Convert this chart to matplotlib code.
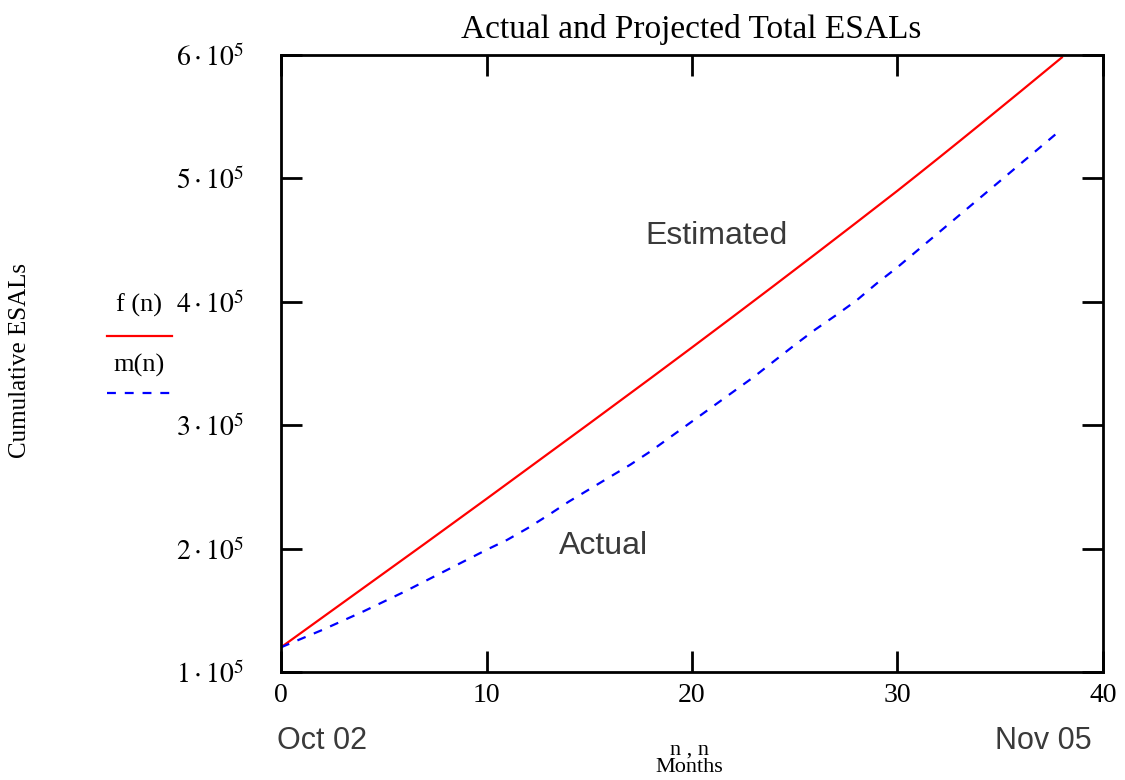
import matplotlib
matplotlib.use("Agg")
import matplotlib.pyplot as plt
import numpy as np
from matplotlib.lines import Line2D

plt.rcParams['mathtext.fontset'] = 'stix'

# months since Oct 02
months = np.arange(0, 39)

# f(n): estimated cumulative ESALs (thousands)
estimated_k = [120, 132, 144, 156, 168, 180, 192, 204, 216.1, 228.2,
               240.3, 252.5, 264.7, 276.9, 289.1, 301.3, 313.6, 325.9, 338.2, 350.6,
               363.0, 375.5, 388.0, 400.6, 413.2, 425.9, 438.6, 451.4, 464.2, 477.1,
               490.0, 503.2, 516.5, 529.9, 543.4, 557.0, 570.6, 584.3, 598.0]

# m(n): actual cumulative ESALs (thousands)
actual_k = [120, 127, 134, 141.5, 149, 157, 165, 173.5, 182, 190.5,
            199, 207, 216.5, 227, 238, 248, 258, 268, 279, 291,
            303, 315, 327, 339, 352, 365, 377.5, 389, 401, 415,
            428, 442, 456, 470, 484, 498, 512, 526, 540]

xticks = [0, 10, 20, 30, 40]
yticks = [1e5, 2e5, 3e5, 4e5, 5e5, 6e5]
ytick_labels = [r'$%d\cdot10^{5}$' % v for v in range(1, 7)]

serif = 'Liberation Serif'
sans = 'Liberation Sans'
note_col = '#3a3a3a'

fig = plt.figure(figsize=(11.25, 7.8), dpi=100)
ax = fig.add_axes([0.2498, 0.1385, 0.7306, 0.791])

ax.plot(months, np.array(estimated_k) * 1000, color='#ff0000', lw=1.6)
ax.plot(months, np.array(actual_k) * 1000, color='#0000ff', lw=1.6,
        linestyle=(0, (4, 4)))

ax.set_xlim(0, 40)
ax.set_ylim(1e5, 6e5)
ax.set_xticks(xticks)
ax.set_xticklabels([str(t) for t in xticks], fontfamily=serif, fontsize=20)
ax.set_yticks(yticks)
ax.set_yticklabels(ytick_labels, fontsize=20)
ax.tick_params(direction='in', length=15, width=2, top=True, right=True,
               colors='black')
ax.tick_params(axis='x', pad=8)
ax.tick_params(axis='y', pad=26)
for s in ax.spines.values():
    s.set_linewidth(2)

fig.text(0.614, 0.962, 'Actual and Projected Total ESALs', ha='center',
         va='center', fontfamily=serif, fontsize=24)

# annotations in the plot
ax.text(21.2, 4.53e5, 'Estimated', fontfamily=sans, fontsize=23,
        color=note_col, ha='center', va='center')
ax.text(15.7, 2.02e5, 'Actual', fontfamily=sans, fontsize=23,
        color=note_col, ha='center', va='center')

# y label and legend on the left
fig.text(0.018, 0.538, 'Cumulative ESALs', rotation=90, ha='center',
         va='center', fontfamily=serif, fontsize=18)
fig.text(0.124, 0.609, 'f (n)', ha='center', va='center', fontfamily=serif,
         fontsize=19)
fig.text(0.124, 0.532, 'm(n)', ha='center', va='center', fontfamily=serif,
         fontsize=19)
fig.add_artist(Line2D([0.095, 0.153], [0.569, 0.569], color='#ff0000',
                      lw=1.6, transform=fig.transFigure))
fig.add_artist(Line2D([0.095, 0.153], [0.496, 0.496], color='#0000ff',
                      lw=1.6, linestyle=(0, (4, 4)), transform=fig.transFigure))

# x labels
fig.text(0.286, 0.050, 'Oct 02', ha='center', va='center', fontfamily=sans,
         fontsize=22, color=note_col)
fig.text(0.927, 0.050, 'Nov 05', ha='center', va='center', fontfamily=sans,
         fontsize=22, color=note_col)
fig.text(0.613, 0.027, 'n , n\nMonths', ha='center', va='center',
         fontfamily=serif, fontsize=16, linespacing=0.85)

fig.savefig('out.png', dpi=100, facecolor='white')
